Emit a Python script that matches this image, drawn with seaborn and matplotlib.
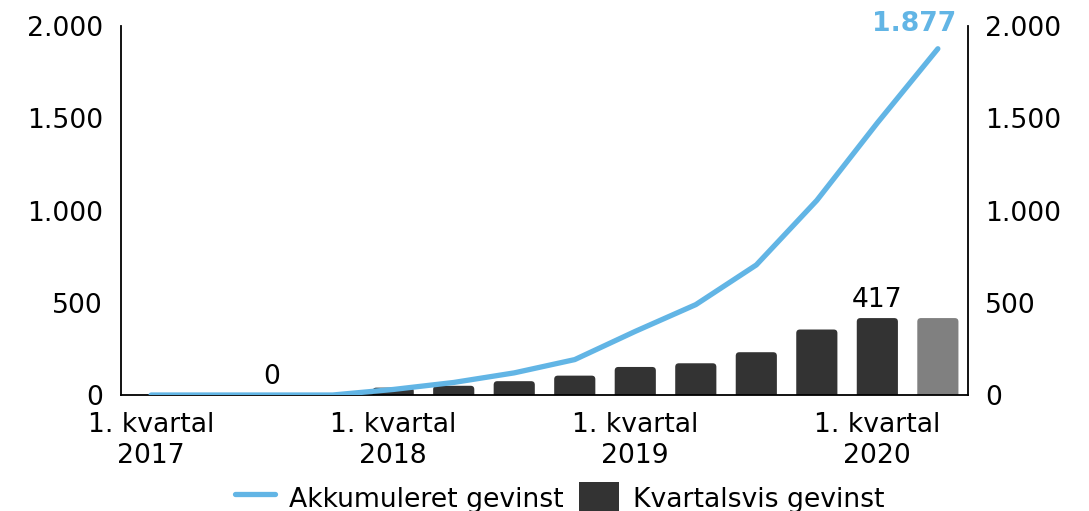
import numpy as np
import pandas as pd
import matplotlib
matplotlib.use("Agg")
import matplotlib.pyplot as plt
import seaborn as sns
from matplotlib.patches import FancyBboxPatch, Patch
from matplotlib.lines import Line2D
from matplotlib.ticker import FixedLocator, FuncFormatter

# Quarterly and accumulated gains, Q1 2017 - Q2 2020
quarters = ["K1 2017", "K2 2017", "K3 2017", "K4 2017",
            "K1 2018", "K2 2018", "K3 2018", "K4 2018",
            "K1 2019", "K2 2019", "K3 2019", "K4 2019",
            "K1 2020", "K2 2020"]
quarterly_gain = [0, 0, 0, 0, 40, 50, 75, 105, 152, 172, 232, 355, 417, 417]
cumulative_gain = [0, 0, 0, 0, 30, 68, 120, 192, 345, 490, 705, 1055, 1475, 1877]

tick_positions = [0, 4, 8, 12]
tick_labels = ["1. kvartal\n2017", "1. kvartal\n2018", "1. kvartal\n2019", "1. kvartal\n2020"]
y_ticks = [0, 500, 1000, 1500, 2000]

# value labels: (quarter index, value)
bar_labels = [(2, quarterly_gain[2]), (12, quarterly_gain[12])]

line_name = "Akkumuleret gevinst"
bar_name = "Kvartalsvis gevinst"

DARK = "#333333"
GREY = "#808080"
BLUE = "#62B5E5"

sns.set_theme(style="white")
plt.rcParams["font.family"] = ["DejaVu Sans"]
plt.rcParams["text.color"] = "black"
FS = 19.2

df = pd.DataFrame({"quarter": quarters, "gain": quarterly_gain})
palette = {q: (GREY if i == len(quarters) - 1 else DARK) for i, q in enumerate(quarters)}

fig = plt.figure(figsize=(10.89, 5.11), dpi=100)
ax = fig.add_axes([0.111, 0.227, 0.778, 0.722])

sns.barplot(data=df, x="quarter", y="gain", hue="quarter", order=quarters,
            palette=palette, width=0.68, saturation=1, legend=False, ax=ax, zorder=2)

ax.set_xlim(-0.5, len(quarters) - 0.5)
ax.set_ylim(0, 2000)

# swap plain rectangles for slightly rounded bars
fig.canvas.draw()
px_per_x = ax.transData.transform((1, 0))[0] - ax.transData.transform((0, 0))[0]
px_per_y = ax.transData.transform((0, 1))[1] - ax.transData.transform((0, 0))[1]
aspect = px_per_x / px_per_y
for p in list(ax.patches):
    x, w, h = p.get_x(), p.get_width(), p.get_height()
    fc = p.get_facecolor()
    p.remove()
    if h <= 0:
        continue
    ext = 30
    rb = FancyBboxPatch((x, -ext), w, h + ext,
                        boxstyle="round,pad=0,rounding_size=0.06",
                        mutation_aspect=aspect, facecolor=fc, edgecolor="none",
                        zorder=2, clip_on=True)
    ax.add_patch(rb)

sns.lineplot(x=np.arange(len(quarters)), y=cumulative_gain, ax=ax, color=BLUE,
             linewidth=3.8, zorder=3, legend=False)
for ln in ax.lines:
    ln.set_solid_capstyle("round")
    ln.set_solid_joinstyle("round")

fmt = FuncFormatter(lambda v, _: f"{int(v):,}".replace(",", "."))

ax.xaxis.set_major_locator(FixedLocator(tick_positions))
ax.set_xticklabels(tick_labels, fontsize=FS, linespacing=1.25)
ax.yaxis.set_major_locator(FixedLocator(y_ticks))
ax.yaxis.set_major_formatter(fmt)
ax.tick_params(axis="both", length=0, labelsize=FS, colors="black")
ax.tick_params(axis="y", pad=13)
ax.tick_params(axis="x", pad=12)
ax.set_xlabel("")
ax.set_ylabel("")
for s in ["top", "right"]:
    ax.spines[s].set_visible(False)
for s in ["left", "bottom"]:
    ax.spines[s].set_color("black")
    ax.spines[s].set_linewidth(1.3)

ax2 = ax.twinx()
ax2.set_ylim(ax.get_ylim())
ax2.yaxis.set_major_locator(FixedLocator(y_ticks))
ax2.yaxis.set_major_formatter(fmt)
ax2.tick_params(axis="y", length=0, labelsize=FS, pad=12, colors="black")
for s in ["top", "left", "bottom"]:
    ax2.spines[s].set_visible(False)
ax2.spines["right"].set_color("black")
ax2.spines["right"].set_linewidth(1.3)
ax2.grid(False)
ax.grid(False)

for i, v in bar_labels:
    ax.annotate(f"{v:,}".replace(",", "."), (i, v), xytext=(0, 8),
                textcoords="offset points", ha="center", va="baseline",
                fontsize=FS, color="black")

last = len(quarters) - 1
ax.annotate(f"{cumulative_gain[last]:,}".replace(",", "."), (last, cumulative_gain[last]),
            xytext=(-17, 12.5), textcoords="offset points", ha="center", va="baseline",
            fontsize=FS, fontweight="bold", color=BLUE, annotation_clip=False)

handles = [Line2D([0], [0], color=BLUE, linewidth=3.8, solid_capstyle="round"),
           Patch(facecolor=DARK, edgecolor="none")]
leg = fig.legend(handles, [line_name, bar_name], loc="center",
                 bbox_to_anchor=(0.514, 0.025), ncol=2, frameon=False, fontsize=FS,
                 handlelength=1.5, handleheight=1.5, handletextpad=0.5, columnspacing=0.6)
for t in leg.get_texts():
    t.set_color("black")

fig.savefig("out.png", dpi=100)
